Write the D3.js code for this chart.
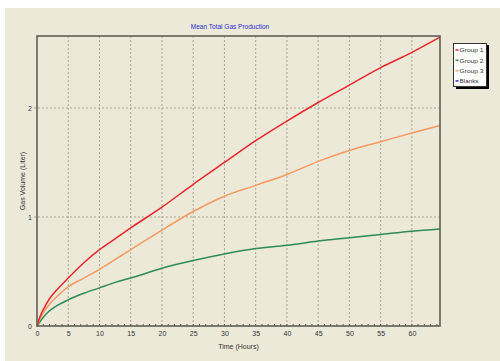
<!DOCTYPE html>
<html><head><meta charset="utf-8">
<script src="https://cdn.jsdelivr.net/npm/d3@7"></script>
<style>html,body{margin:0;padding:0;background:#fff;}svg{display:block;}</style>
</head><body>
<svg id="chart" width="500" height="361"></svg>
<script>
const hours  = [0, 0.5, 1, 2, 3, 5, 7.5, 10, 12.5, 15, 20, 25, 30, 35, 40, 45, 50, 55, 60, 64.5];
const group1 = [0, 0.09, 0.15, 0.25, 0.32, 0.44, 0.58, 0.70, 0.80, 0.90, 1.09, 1.30, 1.50, 1.70, 1.88, 2.05, 2.21, 2.37, 2.51, 2.65];
const group2 = [0, 0.04, 0.08, 0.14, 0.18, 0.24, 0.30, 0.35, 0.40, 0.44, 0.53, 0.60, 0.66, 0.71, 0.74, 0.78, 0.81, 0.84, 0.87, 0.89];
const group3 = [0, 0.07, 0.12, 0.20, 0.26, 0.36, 0.44, 0.52, 0.61, 0.70, 0.88, 1.05, 1.19, 1.29, 1.39, 1.51, 1.61, 1.69, 1.77, 1.84];
const xTicks = [0, 5, 10, 15, 20, 25, 30, 35, 40, 45, 50, 55, 60];
const yTicks = [0, 1, 2];
const legendNames = ["Group 1", "Group 2", "Group 3", "Blanks"];
const legendColors = ["#e8262c", "#2e8b57", "#f59a62", "#2a2ae0"];
const title = "Mean Total Gas Production";
const xTitle = "Time (Hours)";
const yTitle = "Gas Volume (Liter)";

const svg = d3.select("#chart");
svg.append("rect").attr("x", 5).attr("y", 8).attr("width", 495).attr("height", 353).attr("fill", "#ece9d9");

const L = 37, T = 36, R = 440, B = 326;
const x = d3.scaleLinear().domain([0, 64.5]).range([L, R]);
const y = d3.scaleLinear().domain([0, 2.66]).range([B, T]);
const font = "Liberation Sans, Arial, sans-serif";

// grid
const g = svg.append("g");
g.selectAll(".vg").data(xTicks.filter(d => d > 0)).enter().append("line")
  .attr("x1", d => x(d)).attr("x2", d => x(d)).attr("y1", T).attr("y2", B)
  .attr("stroke", "#a8a69a").attr("stroke-width", 1).attr("stroke-dasharray", "2,2");
g.selectAll(".hg").data(yTicks.filter(d => d > 0)).enter().append("line")
  .attr("x1", L - 3).attr("x2", R).attr("y1", d => y(d)).attr("y2", d => y(d))
  .attr("stroke", "#a8a69a").attr("stroke-width", 1).attr("stroke-dasharray", "2,2");

// axes
const xAxis = d3.axisBottom(x).tickValues(xTicks).tickSize(0).tickPadding(5);
const ax = svg.append("g").attr("transform", `translate(0,${B})`).call(xAxis);
ax.select(".domain").remove();
ax.selectAll("text").attr("font-family", font).attr("font-size", 7).attr("fill", "#333");
// minor ticks
svg.append("g").selectAll("line").data(d3.range(1, 65)).enter().append("line")
  .attr("x1", d => x(d)).attr("x2", d => x(d)).attr("y1", B).attr("y2", B - 2)
  .attr("stroke", "#555").attr("stroke-width", 1);

const yAxis = d3.axisLeft(y).tickValues(yTicks).tickFormat(d3.format("d")).tickSize(0).tickPadding(5);
const ay = svg.append("g").attr("transform", `translate(${L},0)`).call(yAxis);
ay.select(".domain").remove();
ay.selectAll("text").attr("font-family", font).attr("font-size", 7).attr("fill", "#333");

// lines
const line = d3.line().x((d, i) => x(hours[i])).y(d => y(d)).curve(d3.curveMonotoneX);
const series = [[group2, legendColors[1]], [group3, legendColors[2]], [group1, legendColors[0]]];
series.forEach(([vals, c]) => {
  svg.append("path").attr("d", line(vals)).attr("fill", "none").attr("stroke", c).attr("stroke-width", 1.5);
});

// frame
svg.append("rect").attr("x", L).attr("y", T).attr("width", R - L).attr("height", B - T)
  .attr("fill", "none").attr("stroke", "#605f52").attr("stroke-width", 1.6);

// titles
svg.append("text").attr("x", 230).attr("y", 29).attr("text-anchor", "middle")
  .attr("font-family", font).attr("font-size", 6.5).attr("fill", "#2a2ad0").text(title);
svg.append("text").attr("x", (L + R) / 2).attr("y", 349).attr("text-anchor", "middle")
  .attr("font-family", font).attr("font-size", 7).attr("fill", "#333").text(xTitle);
svg.append("text").attr("transform", `translate(25,${(T + B) / 2}) rotate(-90)`).attr("text-anchor", "middle")
  .attr("font-family", font).attr("font-size", 7).attr("fill", "#333").text(yTitle);

// legend
const lg = svg.append("g");
lg.append("rect").attr("x", 456).attr("y", 45).attr("width", 33).attr("height", 44).attr("fill", "#000");
lg.append("rect").attr("x", 453.5).attr("y", 43.5).attr("width", 33).attr("height", 43).attr("fill", "#fff").attr("stroke", "#333").attr("stroke-width", 1);
legendNames.forEach((n, i) => {
  const yy = 50 + i * 10.3;
  lg.append("line").attr("x1", 455.5).attr("x2", 458.5).attr("y1", yy).attr("y2", yy)
    .attr("stroke", legendColors[i]).attr("stroke-width", 1.5);
  lg.append("text").attr("x", 459.5).attr("y", yy + 2.2).attr("font-family", font).attr("font-size", 6)
    .attr("textLength", n.length > 6 ? 24 : 19).attr("lengthAdjust", "spacingAndGlyphs")
    .attr("fill", "#333").text(n);
});
</script>
</body></html>
